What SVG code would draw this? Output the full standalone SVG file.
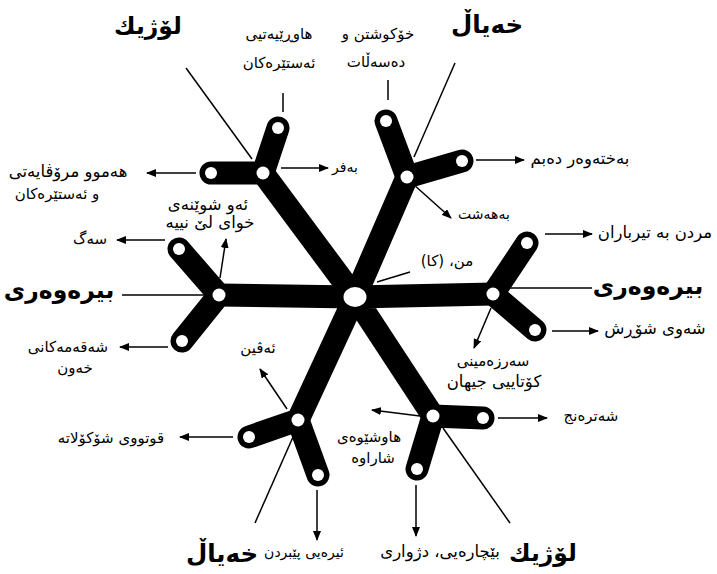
<svg xmlns="http://www.w3.org/2000/svg" width="717" height="574" viewBox="0 0 717 574">
<defs>
<style>
.arm{stroke:#000;stroke-width:23;stroke-linecap:round;stroke-linejoin:round;fill:none}
.hole{fill:#fff}
.ptr{stroke:#000;stroke-width:1.5;fill:none}
.arr{stroke:#000;stroke-width:1.5;fill:none;marker-end:url(#ah)}
text{font-family:"DejaVu Sans","Noto Sans",sans-serif;fill:#000;text-anchor:middle;direction:rtl}
.s{font-size:15px}
.m{font-size:16.5px}
.t{font-size:14px}
.b{font-size:23.5px;font-weight:bold}
.k{font-size:24.5px;font-weight:bold}
</style>
<marker id="ah" markerWidth="10" markerHeight="8" refX="9" refY="4" orient="auto" markerUnits="userSpaceOnUse">
<path d="M0,0 L10,4 L0,8 z" fill="#000"/>
</marker>
</defs>
<rect width="717" height="574" fill="#fff"/>

<g id="connectors">
<line class="ptr" x1="186" y1="68" x2="252" y2="159"/>
<line class="ptr" x1="283" y1="93" x2="283" y2="112"/>
<line class="ptr" x1="388" y1="80" x2="388" y2="100"/>
<line class="ptr" x1="455" y1="63" x2="414" y2="157"/>
<line class="ptr" x1="122" y1="295" x2="205" y2="295"/>
<line class="ptr" x1="507" y1="288" x2="592" y2="288"/>
<line class="ptr" x1="377" y1="282" x2="410" y2="272"/>
<line class="ptr" x1="255" y1="523" x2="293" y2="437"/>
<line class="ptr" x1="443" y1="428" x2="510" y2="523"/>

<line class="arr" x1="196" y1="173" x2="147" y2="173"/>
<line class="arr" x1="281" y1="168" x2="328" y2="168"/>
<line class="arr" x1="476" y1="160" x2="524" y2="160"/>
<line class="arr" x1="413" y1="184" x2="451" y2="218"/>
<line class="arr" x1="545" y1="234" x2="592" y2="234"/>
<line class="arr" x1="552" y1="331" x2="598" y2="331"/>
<line class="arr" x1="491" y1="308" x2="474" y2="348"/>
<line class="arr" x1="165" y1="240" x2="117" y2="240"/>
<line class="arr" x1="220" y1="278" x2="226" y2="239"/>
<line class="arr" x1="168" y1="347" x2="120" y2="347"/>
<line class="arr" x1="287" y1="409" x2="260" y2="369"/>
<line class="arr" x1="233" y1="437" x2="180" y2="437"/>
<line class="arr" x1="317" y1="490" x2="317" y2="540"/>
<line class="arr" x1="420" y1="416" x2="372" y2="410"/>
<line class="arr" x1="498" y1="418" x2="547" y2="418"/>
<line class="arr" x1="416" y1="485" x2="416" y2="536"/>
</g>

<g id="star">
<path class="arm" d="M355,297 L263,173 M355,297 L407,177 M355,297 L219,295 M355,297 L493,294 M355,297 L298,420 M355,297 L433,416"/>
</g>

<g id="node-center">
<ellipse class="hole" cx="355" cy="297" rx="11.5" ry="10"/>
</g>

<g id="node-upper-left">
<path class="arm" d="M278,128 L263,173 L211,173"/>
<circle class="hole" cx="263" cy="173" r="6.5"/>
<circle class="hole" cx="278" cy="128" r="6"/>
<circle class="hole" cx="211" cy="173" r="6"/>
</g>

<g id="node-upper-right">
<path class="arm" d="M386,121 L407,177 L462,161"/>
<circle class="hole" cx="407" cy="177" r="6.5"/>
<circle class="hole" cx="386" cy="121" r="6"/>
<circle class="hole" cx="462" cy="161" r="6"/>
</g>

<g id="node-left">
<path class="arm" d="M179,249 L219,295 L182,341"/>
<circle class="hole" cx="219" cy="295" r="6.5"/>
<circle class="hole" cx="179" cy="249" r="6"/>
<circle class="hole" cx="182" cy="341" r="6"/>
</g>

<g id="node-right">
<path class="arm" d="M527,243 L493,294 L535,330"/>
<circle class="hole" cx="493" cy="294" r="6.5"/>
<circle class="hole" cx="527" cy="243" r="6"/>
<circle class="hole" cx="535" cy="330" r="6"/>
</g>

<g id="node-lower-left">
<path class="arm" d="M249,437 L298,420 L318,475"/>
<circle class="hole" cx="298" cy="420" r="6.5"/>
<circle class="hole" cx="249" cy="437" r="6"/>
<circle class="hole" cx="318" cy="475" r="6"/>
</g>

<g id="node-lower-right">
<path class="arm" d="M483,418 L433,416 L417,469"/>
<circle class="hole" cx="433" cy="416" r="6.5"/>
<circle class="hole" cx="483" cy="418" r="6"/>
<circle class="hole" cx="417" cy="469" r="6"/>
</g>

<g id="labels">
<text class="b" x="148" y="34">لۆژیك</text>
<text class="k" x="487" y="33">خەیاڵ</text>
<text class="b" x="59" y="298">بیرەوەری</text>
<text class="b" x="648" y="294">بیرەوەری</text>
<text class="k" x="222" y="562">خەیاڵ</text>
<text class="b" x="543" y="561">لۆژیك</text>

<text class="s" x="279" y="39">هاوڕێیەتیی</text>
<text class="s" x="279" y="68">ئەستێرەکان</text>
<text class="s" x="378" y="39">خۆکوشتن و</text>
<text class="s" x="376" y="67">دەسەڵات</text>
<text class="m" x="580" y="164">بەختەوەر دەبم</text>
<text class="t" x="345" y="172">بەفر</text>
<text class="m" x="68" y="177">هەموو مرۆڤایەتی</text>
<text class="s" x="57" y="199">و ئەستێرەکان</text>
<text class="t" x="484" y="219">بەهەشت</text>
<text class="m" x="208" y="210">ئەو شوێنەی</text>
<text class="m" x="210" y="228">خوای لێ نییە</text>
<text class="s" x="90" y="244">سەگ</text>
<text class="m" x="655" y="238">مردن بە تیرباران</text>
<text class="s" x="447" y="266">من، (کا)</text>
<text class="m" x="655" y="334">شەوی شۆڕش</text>
<text class="s" x="68" y="352">شەقەمەکانی</text>
<text class="s" x="75" y="373">خەون</text>
<text class="s" x="493" y="366">سەرزەمینی</text>
<text class="m" x="494" y="387">کۆتاییی جیهان</text>
<text class="s" x="258" y="353">ئەڤین</text>
<text class="s" x="591" y="421">شەترەنج</text>
<text class="s" x="111" y="443">قوتووی شۆکۆلاتە</text>
<text class="s" x="369" y="442">هاوشێوەی</text>
<text class="s" x="373" y="463">شاراوە</text>
<text class="t" x="304" y="557">ئیرەیی پێبردن</text>
<text class="m" x="440" y="557">بێچارەیی، دژواری</text>
</g>
</svg>
